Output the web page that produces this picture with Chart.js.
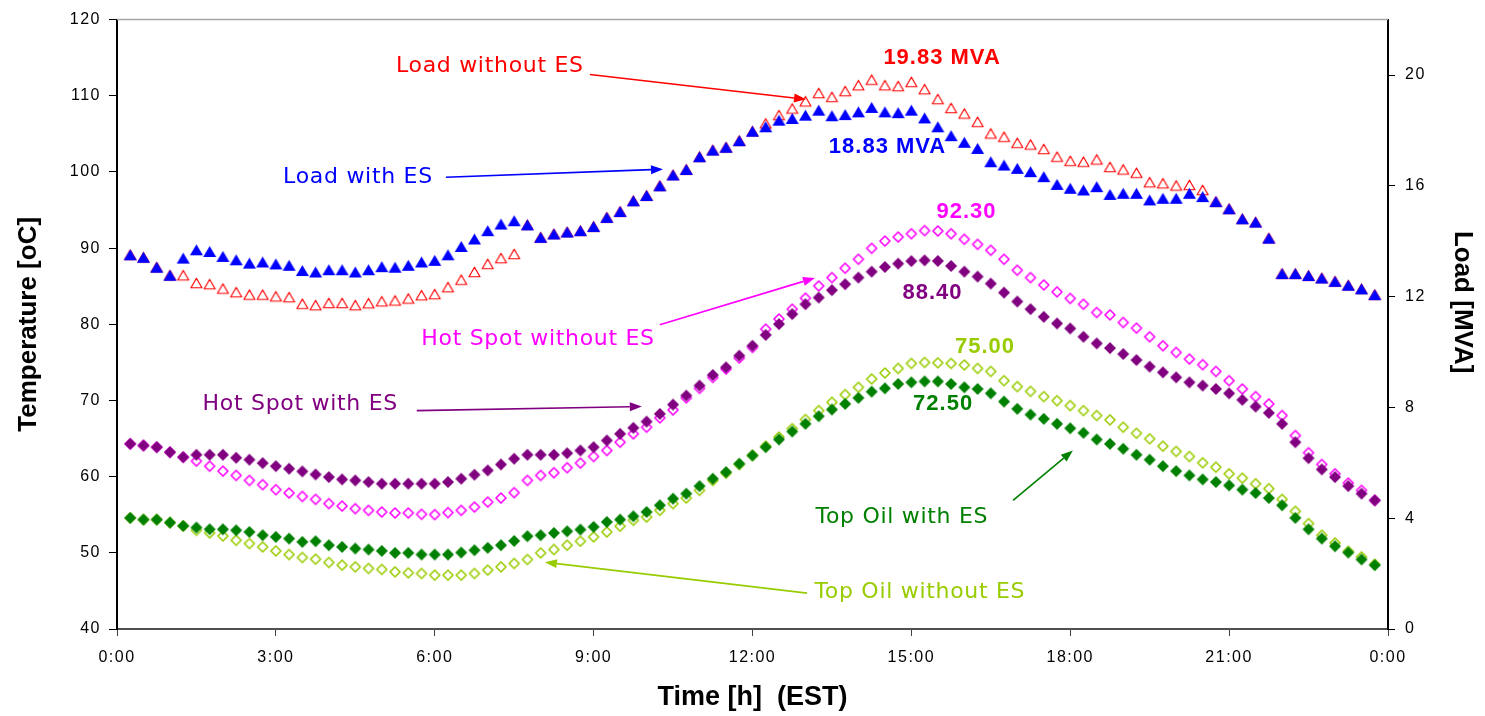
<!DOCTYPE html>
<html>
<head>
<meta charset="utf-8">
<script src="https://cdn.jsdelivr.net/npm/chart.js@4.4.0/dist/chart.umd.min.js"></script>
<style>
  html, body { margin: 0; padding: 0; background: #fff; }
  canvas { display: block; }
</style>
</head>
<body>
<canvas id="chart" width="1485" height="716"></canvas>
<script>
// samples every 15 minutes, first one at 0:15
var firstHour = 0.25;
var stepHour = 0.25;
var timeTickLabels = ['0:00', '3:00', '6:00', '9:00', '12:00', '15:00', '18:00', '21:00', '0:00'];

// load [MVA], right axis
var loadWithES = [
    13.51, 13.42, 13.06, 12.77, 13.39, 13.69, 13.63, 13.45, 13.33, 13.21, 13.25, 13.18,
    13.13, 12.94, 12.89, 12.97, 12.97, 12.89, 12.97, 13.08, 13.06, 13.13, 13.25, 13.31,
    13.51, 13.81, 14.08, 14.38, 14.62, 14.74, 14.59, 14.14, 14.26, 14.33, 14.38, 14.53,
    14.86, 15.07, 15.46, 15.65, 16.00, 16.39, 16.59, 17.05, 17.29, 17.39, 17.63, 17.97,
    18.13, 18.37, 18.43, 18.55, 18.73, 18.53, 18.57, 18.67, 18.83, 18.67, 18.64, 18.73,
    18.45, 18.13, 17.81, 17.57, 17.35, 16.87, 16.75, 16.63, 16.51, 16.33, 16.05, 15.91,
    15.85, 15.97, 15.69, 15.73, 15.73, 15.49, 15.55, 15.55, 15.73, 15.61, 15.43, 15.17,
    14.81, 14.69, 14.11, 12.83, 12.83, 12.76, 12.67, 12.55, 12.41, 12.28, 12.07
];
var loadWithoutES = [
    13.51, 13.42, 13.06, 12.77, 12.77, 12.49, 12.45, 12.29, 12.16, 12.07, 12.07, 12.01,
    11.98, 11.74, 11.69, 11.77, 11.77, 11.69, 11.76, 11.83, 11.86, 11.93, 12.05, 12.09,
    12.34, 12.61, 12.89, 13.18, 13.39, 13.54, 14.59, 14.14, 14.26, 14.33, 14.38, 14.53,
    14.86, 15.07, 15.46, 15.65, 16.00, 16.39, 16.59, 17.05, 17.29, 17.39, 17.63, 17.97,
    18.25, 18.55, 18.79, 19.05, 19.35, 19.21, 19.42, 19.63, 19.83, 19.63, 19.60, 19.75,
    19.49, 19.13, 18.81, 18.61, 18.31, 17.89, 17.77, 17.55, 17.49, 17.33, 17.05, 16.90,
    16.87, 16.95, 16.68, 16.59, 16.47, 16.13, 16.09, 16.01, 16.03, 15.85, 15.43, 15.17,
    14.81, 14.69, 14.11, 12.83, 12.83, 12.76, 12.67, 12.55, 12.41, 12.28, 12.07
];

// temperatures [oC], left axis
var hotSpotWithES = [
    64.31, 64.09, 63.87, 63.21, 62.56, 62.87, 62.87, 62.87, 62.48, 62.22, 61.78, 61.38,
    61.04, 60.69, 60.29, 59.94, 59.64, 59.51, 59.29, 59.07, 59.07, 59.07, 59.07, 59.07,
    59.29, 59.73, 60.25, 60.82, 61.60, 62.35, 62.87, 62.87, 62.87, 63.08, 63.44, 63.87,
    64.75, 65.62, 66.41, 67.23, 68.24, 69.46, 70.64, 71.95, 73.35, 74.35, 75.88, 77.19,
    78.60, 80.03, 81.34, 82.64, 83.51, 84.48, 85.26, 86.13, 86.91, 87.53, 87.96, 88.30,
    88.40, 88.31, 87.66, 86.91, 86.26, 85.34, 84.16, 82.99, 81.99, 80.98, 80.11, 79.45,
    78.36, 77.49, 76.88, 76.10, 75.31, 74.44, 73.69, 73.04, 72.38, 71.95, 71.51, 70.94,
    70.08, 69.20, 68.37, 66.93, 64.52, 62.43, 60.95, 59.94, 58.76, 57.77, 56.89
];
var hotSpotWithoutES = [
    64.31, 64.09, 63.87, 63.21, 62.56, 62.04, 61.38, 60.73, 60.16, 59.51, 58.95, 58.29,
    57.85, 57.41, 57.02, 56.46, 56.14, 55.80, 55.58, 55.36, 55.23, 55.23, 55.06, 55.02,
    55.28, 55.58, 56.01, 56.67, 57.19, 57.90, 59.51, 60.16, 60.52, 61.17, 61.78, 62.65,
    63.44, 64.52, 65.62, 66.49, 67.72, 68.76, 70.34, 71.59, 73.03, 74.13, 75.57, 76.97,
    79.37, 80.70, 81.99, 83.43, 85.04, 86.13, 87.36, 88.54, 89.98, 90.93, 91.46, 91.89,
    92.30, 92.25, 91.89, 91.16, 90.50, 89.72, 88.54, 87.10, 86.13, 85.17, 84.26, 83.40,
    82.64, 81.55, 81.24, 80.24, 79.50, 78.36, 77.19, 76.31, 75.44, 74.70, 73.82, 72.60,
    71.51, 70.51, 69.55, 68.02, 65.40, 63.14, 61.60, 60.38, 59.16, 58.20, 56.89
];
var topOilWithES = [
    54.58, 54.36, 54.36, 53.97, 53.53, 53.32, 53.09, 53.09, 52.96, 52.74, 52.31, 52.09,
    51.87, 51.43, 51.52, 51.00, 50.78, 50.56, 50.43, 50.25, 49.99, 49.99, 49.78, 49.78,
    49.78, 50.04, 50.34, 50.65, 51.00, 51.56, 52.18, 52.31, 52.61, 52.83, 53.05, 53.40,
    54.05, 54.36, 54.80, 55.36, 56.24, 57.11, 57.77, 58.76, 59.73, 60.60, 61.70, 62.78,
    63.87, 64.88, 65.92, 66.93, 67.93, 68.81, 69.55, 70.34, 71.16, 71.59, 72.17, 72.38,
    72.50, 72.50, 72.17, 71.73, 71.51, 70.94, 69.85, 68.90, 68.15, 67.59, 66.93, 66.35,
    65.75, 64.88, 64.31, 63.66, 62.87, 62.22, 61.38, 60.73, 60.16, 59.64, 59.29, 58.85,
    58.29, 57.85, 57.19, 56.24, 54.58, 53.09, 51.87, 50.87, 50.04, 49.13, 48.38
];
var topOilWithoutES = [
    54.58, 54.36, 54.36, 53.97, 53.53, 52.96, 52.61, 52.22, 51.65, 51.22, 50.78, 50.25,
    49.78, 49.39, 49.17, 48.73, 48.38, 48.16, 47.95, 47.82, 47.50, 47.37, 47.29, 47.07,
    47.07, 47.07, 47.29, 47.73, 48.16, 48.60, 49.13, 49.99, 50.43, 51.00, 51.52, 52.09,
    52.74, 53.49, 54.27, 54.70, 55.58, 56.46, 57.19, 58.20, 59.50, 60.45, 61.60, 62.80,
    64.00, 65.20, 66.30, 67.50, 68.67, 69.76, 70.77, 71.73, 72.82, 73.61, 74.21, 74.87,
    75.00, 74.95, 74.87, 74.66, 74.21, 73.82, 72.60, 71.82, 71.20, 70.51, 69.98, 69.33,
    68.67, 68.02, 67.46, 66.49, 65.70, 64.97, 64.00, 63.31, 62.65, 61.82, 61.25, 60.38,
    59.81, 59.07, 58.42, 57.02, 55.45, 53.84, 52.31, 51.30, 50.20, 49.47, 48.50
];

var RED = '#ff0000';
var BLUE = '#0000ff';
var PURPLE = '#800080';
var MAGENTA = '#ff00ff';
var GREEN = '#008000';
var LIME = '#99cc00';

// text notes placed in (hour, temperature) units
var labelNotes = [
    { text: 'Load without ES', hour: 7.04, temp: 113.85, color: RED, bold: false },
    { text: '19.83 MVA', hour: 15.58, temp: 115.02, color: RED, bold: true },
    { text: 'Load with ES', hour: 4.55, temp: 99.31, color: BLUE, bold: false },
    { text: '18.83 MVA', hour: 14.55, temp: 103.24, color: BLUE, bold: true },
    { text: '92.30', hour: 16.04, temp: 94.73, color: MAGENTA, bold: true },
    { text: '88.40', hour: 15.40, temp: 84.06, color: PURPLE, bold: true },
    { text: 'Hot Spot without ES', hour: 7.95, temp: 77.97, color: MAGENTA, bold: false },
    { text: 'Hot Spot with ES', hour: 3.46, temp: 69.46, color: PURPLE, bold: false },
    { text: '75.00', hour: 16.39, temp: 76.99, color: LIME, bold: true },
    { text: '72.50', hour: 15.60, temp: 69.53, color: GREEN, bold: true },
    { text: 'Top Oil with ES', hour: 14.82, temp: 54.67, color: GREEN, bold: false },
    { text: 'Top Oil without ES', hour: 15.16, temp: 44.84, color: LIME, bold: false }
];
var arrowNotes = [
    { from: [8.93, 112.8], to: [13.01, 109.53], color: RED },
    { from: [6.21, 99.31], to: [10.31, 100.36], color: BLUE },
    { from: [10.25, 79.93], to: [13.18, 86.09], color: MAGENTA },
    { from: [5.66, 68.67], to: [9.91, 69.2], color: PURPLE },
    { from: [16.92, 56.89], to: [18.05, 63.44], color: GREEN },
    { from: [13.03, 44.71], to: [8.08, 48.77], color: LIME }
];

var hours = loadWithES.map(function (v, i) { return firstHour + i * stepHour; });

function points(values) {
    return values.map(function (v, i) { return { x: hours[i], y: v }; });
}

function marker(shape, w, h, fill, stroke, lw) {
    var c = document.createElement('canvas');
    c.width = Math.ceil(w) + 4;
    c.height = Math.ceil(h) + 4;
    var g = c.getContext('2d');
    var cx = c.width / 2, cy = c.height / 2;
    g.beginPath();
    if (shape === 'tri') {
        g.moveTo(cx, cy - h / 2);
        g.lineTo(cx + w / 2, cy + h / 2);
        g.lineTo(cx - w / 2, cy + h / 2);
    } else {
        g.moveTo(cx, cy - h / 2);
        g.lineTo(cx + w / 2, cy);
        g.lineTo(cx, cy + h / 2);
        g.lineTo(cx - w / 2, cy);
    }
    g.closePath();
    if (fill) {
        g.fillStyle = fill;
        g.fill();
    }
    if (stroke) {
        g.lineJoin = 'round';
        g.lineWidth = lw;
        g.strokeStyle = stroke;
        g.stroke();
    }
    return c;
}

function drawArrow(ctx, x1, y1, x2, y2, color) {
    var a = Math.atan2(y2 - y1, x2 - x1);
    var head = 12, half = 4.5;
    var bx = x2 - head * Math.cos(a), by = y2 - head * Math.sin(a);
    ctx.strokeStyle = color;
    ctx.fillStyle = color;
    ctx.lineWidth = 1.6;
    ctx.beginPath();
    ctx.moveTo(x1, y1);
    ctx.lineTo(bx, by);
    ctx.stroke();
    ctx.beginPath();
    ctx.moveTo(x2, y2);
    ctx.lineTo(bx + half * Math.sin(a), by - half * Math.cos(a));
    ctx.lineTo(bx - half * Math.sin(a), by + half * Math.cos(a));
    ctx.closePath();
    ctx.fill();
}

var notesPlugin = {
    id: 'notes',
    afterDatasetsDraw: function (chart) {
        // tick labels are drawn after this, the original has them spaced out
        chart.ctx.letterSpacing = '1.5px';
    },
    afterDraw: function (chart) {
        var ctx = chart.ctx;
        var sx = chart.scales.x, sy = chart.scales.y, s2 = chart.scales.y2;
        var area = chart.chartArea;
        ctx.save();
        ctx.letterSpacing = '0px';

        ctx.strokeStyle = '#a6a6a6';
        ctx.lineWidth = 1.5;
        ctx.beginPath();
        ctx.moveTo(area.left, area.top);
        ctx.lineTo(area.right, area.top);
        ctx.stroke();

        arrowNotes.forEach(function (n) {
            drawArrow(ctx,
                sx.getPixelForValue(n.from[0]), sy.getPixelForValue(n.from[1]),
                sx.getPixelForValue(n.to[0]), sy.getPixelForValue(n.to[1]), n.color);
        });

        ctx.textAlign = 'center';
        ctx.textBaseline = 'middle';
        labelNotes.forEach(function (n) {
            if (n.bold) {
                ctx.font = 'bold 22px "Liberation Sans", Arial, sans-serif';
                ctx.letterSpacing = '1px';
            } else {
                ctx.font = '22px "DejaVu Sans", sans-serif';
                ctx.letterSpacing = '0.7px';
            }
            ctx.fillStyle = n.color;
            ctx.fillText(n.text, sx.getPixelForValue(n.hour), sy.getPixelForValue(n.temp));
        });

        ctx.letterSpacing = '0px';
        ctx.font = 'bold 26px "Liberation Sans", Arial, sans-serif';
        ctx.fillStyle = '#000';
        ctx.translate(s2.right - 23, s2.getPixelForValue(11.8));
        ctx.rotate(Math.PI / 2);
        ctx.fillText('Load [MVA]', 0, 0);
        ctx.restore();
    }
};

window.addEventListener("load", function () {
    var tickFont = { family: '"Liberation Sans", Arial, sans-serif', size: 16 };
    var titleFont = { family: '"Liberation Sans", Arial, sans-serif', size: 26, weight: 'bold' };

    new Chart(document.getElementById('chart').getContext('2d'), {
        type: 'line',
        data: {
            datasets: [
                {
                    label: 'Load with ES',
                    data: points(loadWithES),
                    yAxisID: 'y2',
                    pointStyle: marker('tri', 13, 11, BLUE, null, 0),
                    order: 1
                },
                {
                    label: 'Load without ES',
                    data: points(loadWithoutES),
                    yAxisID: 'y2',
                    pointStyle: marker('tri', 11, 9.5, null, RED, 1.2),
                    order: 2
                },
                {
                    label: 'Hot Spot with ES',
                    data: points(hotSpotWithES),
                    yAxisID: 'y',
                    pointStyle: marker('dia', 12, 12, PURPLE, null, 0),
                    order: 1
                },
                {
                    label: 'Hot Spot without ES',
                    data: points(hotSpotWithoutES),
                    yAxisID: 'y',
                    pointStyle: marker('dia', 10, 10, null, MAGENTA, 1.6),
                    order: 2
                },
                {
                    label: 'Top Oil with ES',
                    data: points(topOilWithES),
                    yAxisID: 'y',
                    pointStyle: marker('dia', 12, 12, GREEN, null, 0),
                    order: 1
                },
                {
                    label: 'Top Oil without ES',
                    data: points(topOilWithoutES),
                    yAxisID: 'y',
                    pointStyle: marker('dia', 10, 10, null, LIME, 1.6),
                    order: 2
                }
            ]
        },
        options: {
            responsive: false,
            animation: false,
            events: [],
            showLine: false,
            layout: { padding: { top: 18, left: 0, right: 0, bottom: 0 } },
            elements: { point: { radius: 7 } },
            plugins: {
                legend: { display: false },
                tooltip: { enabled: false }
            },
            scales: {
                x: {
                    type: 'linear',
                    min: 0,
                    max: 24,
                    ticks: {
                        stepSize: 3,
                        autoSkip: false,
                        maxRotation: 0,
                        padding: 12,
                        z: 1,
                        color: '#000',
                        font: tickFont,
                        callback: function (v) { return timeTickLabels[v / 3]; }
                    },
                    grid: { drawOnChartArea: false, tickLength: 7, color: '#404040' },
                    border: { color: '#505050', width: 2 },
                    title: {
                        display: true,
                        text: 'Time [h]  (EST)',
                        color: '#000',
                        font: { family: '"Liberation Sans", Arial, sans-serif', size: 27, weight: 'bold' },
                        padding: { top: 0, bottom: 2 }
                    },
                    afterFit: function (s) { s.height = 87; }
                },
                y: {
                    position: 'left',
                    min: 40,
                    max: 120,
                    ticks: { stepSize: 10, padding: 8, z: 1, color: '#000', font: tickFont },
                    grid: { drawOnChartArea: false, tickLength: 8, color: '#000' },
                    border: { color: '#000', width: 2 },
                    title: {
                        display: true,
                        text: 'Temperature [oC]',
                        color: '#000',
                        font: titleFont,
                        padding: { top: 13, bottom: 0 }
                    },
                    afterFit: function (s) { s.width = 117; }
                },
                y2: {
                    position: 'right',
                    min: 0,
                    max: 22,
                    ticks: { stepSize: 4, includeBounds: false, padding: 10, z: 1, color: '#000', font: tickFont },
                    grid: { drawOnChartArea: false, tickLength: 7, color: '#000' },
                    border: { color: '#000', width: 2 },
                    afterFit: function (s) { s.width = 97; }
                }
            }
        },
        plugins: [notesPlugin]
    });
});
</script>
</body>
</html>
